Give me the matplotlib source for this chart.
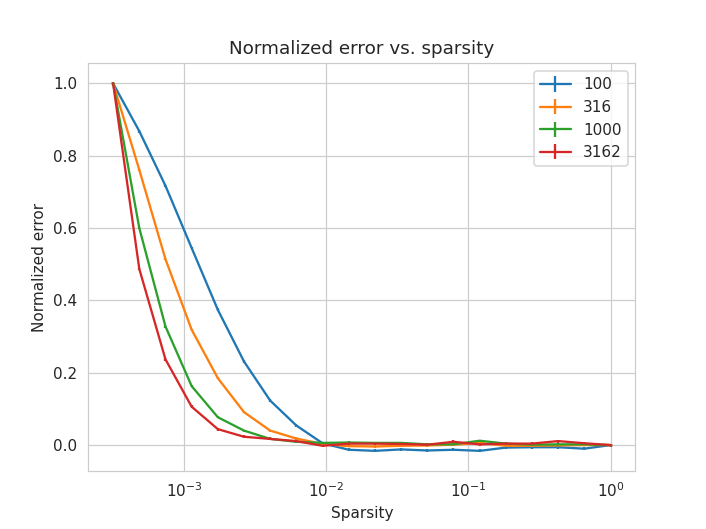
import numpy as np
import matplotlib
matplotlib.use('Agg')
import matplotlib.pyplot as plt
import seaborn as sns

# sparsity levels (log spaced, 20 points)
sparsity = np.logspace(-3.5, 0, 20)

sizes = ['100', '316', '1000', '3162']

err_100 = [1.0, 0.868, 0.717, 0.545, 0.374, 0.231, 0.123, 0.054, 0.005, -0.013,
           -0.016, -0.012, -0.015, -0.013, -0.016, -0.007, -0.006, -0.006, -0.010, 0.0]
err_316 = [1.0, 0.761, 0.514, 0.319, 0.185, 0.091, 0.040, 0.018, 0.003, -0.003,
           -0.004, -0.002, -0.001, 0.001, 0.006, -0.002, -0.002, -0.001, 0.0, 0.0]
err_1000 = [1.0, 0.600, 0.328, 0.163, 0.077, 0.040, 0.017, 0.009, 0.006, 0.007,
            0.006, 0.006, 0.002, 0.002, 0.012, 0.004, 0.001, 0.002, 0.002, 0.0]
err_3162 = [1.0, 0.487, 0.237, 0.106, 0.044, 0.023, 0.017, 0.011, -0.002, 0.004,
            0.004, 0.003, 0.001, 0.009, 0.002, 0.004, 0.004, 0.011, 0.005, 0.0]

# small standard errors
std_100 = [0.004] * 20
std_316 = [0.003] * 20
std_1000 = [0.003] * 20
std_3162 = [0.004] * 20

series = [(err_100, std_100), (err_316, std_316), (err_1000, std_1000), (err_3162, std_3162)]

sns.set_style('whitegrid')

fig = plt.figure(figsize=(706 / 110, 529 / 110), dpi=110)
ax = fig.add_subplot(111)
for label, (y, e) in zip(sizes, series):
    ax.errorbar(sparsity, y, yerr=e, label=label)

ax.set_xscale('log')
ax.set_xlabel('Sparsity')
ax.set_ylabel('Normalized error')
ax.set_title('Normalized error vs. sparsity')
ax.legend(loc='upper right')

fig.savefig('out.png', dpi=110)
